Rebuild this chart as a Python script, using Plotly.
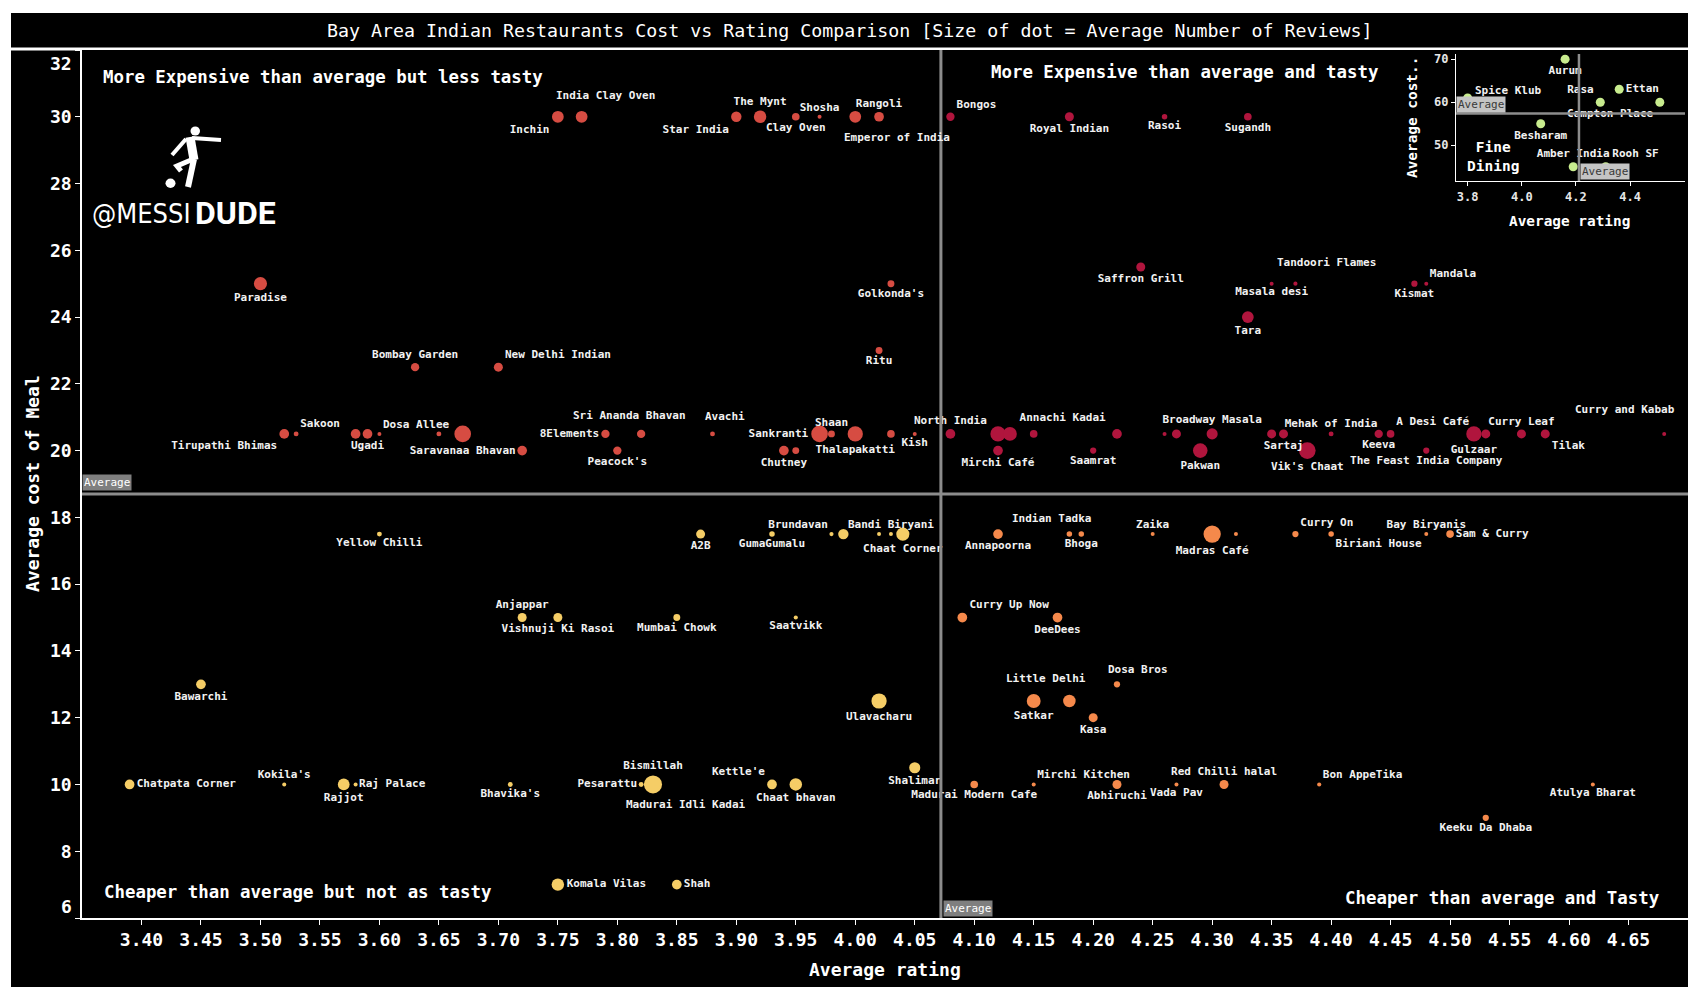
#!/usr/bin/env python3
"""
Bay Area Indian restaurants: cost vs rating quadrant chart
- main scatter split by the average lines
- small fine dining inset in the top right corner
"""

import plotly.graph_objects as go

# --- Data ---
NAMES = [
    # upper left
    "Inchin", "India Clay Oven", "Star India", "The Mynt", "Clay Oven", "Shosha", "Emperor of India", "Rangoli",
    "Paradise", "Golkonda's", "Bombay Garden", "New Delhi Indian", "Ritu",
    "Tirupathi Bhimas", "Sakoon", "", "Ugadi", "Dosa Allee", "", "Saravanaa Bhavan", "8Elements",
    "Sri Ananda Bhavan", "Avachi", "Sankranti", "Shaan", "Thalapakatti", "", "Kish",
    "", "Peacock's", "Chutney", "",
    # upper right
    "Bongos", "Royal Indian", "Rasoi", "Sugandh", "Saffron Grill", "Masala desi", "Tandoori Flames", "Tara",
    "Kismat", "Mandala",
    "North India", "", "Annachi Kadai", "", "", "", "", "Broadway Masala", "", "Sartaj", "Mehak of India",
    "Keeva", "A Desi Café", "Gulzaar", "", "Curry Leaf", "Tilak", "Curry and Kabab",
    "Mirchi Café", "Saamrat", "Pakwan", "Vik's Chaat", "The Feast India Company",
    # lower left
    "Yellow Chilli", "A2B", "GumaGumalu", "Brundavan", "", "", "Bandi Biryani", "Chaat Corner",
    "Anjappar", "Vishnuji Ki Rasoi", "Mumbai Chowk", "Saatvikk", "Bawarchi", "Ulavacharu",
    "Chatpata Corner", "Kokila's", "Rajjot", "Raj Palace", "Bhavika's", "Pesarattu", "Madurai Idli Kadai",
    "Bismillah", "Kettle'e", "Chaat bhavan", "Shalimar", "Komala Vilas", "Shah",
    # lower right
    "Annapoorna", "Indian Tadka", "Bhoga", "Zaika", "Madras Café", "", "Curry On", "Biriani House",
    "Bay Biryanis", "Sam & Curry", "Curry Up Now", "DeeDees", "Satkar", "Little Delhi", "Kasa", "Dosa Bros",
    "Madurai Modern Cafe", "Mirchi Kitchen", "Abhiruchi", "Vada Pav", "Red Chilli halal", "Bon AppeTika",
    "Atulya Bharat", "Keeku Da Dhaba",
]
RATINGS = [
    3.75, 3.77, 3.90, 3.92, 3.95, 3.97, 4.00, 4.02,
    3.50, 4.03, 3.63, 3.70, 4.02,
    3.52, 3.53, 3.58, 3.59, 3.60, 3.65, 3.67, 3.79,
    3.82, 3.88, 3.97, 3.98, 4.00, 4.03, 4.05,
    3.72, 3.80, 3.94, 3.95,
    4.08, 4.18, 4.26, 4.33, 4.24, 4.35, 4.37, 4.33,
    4.47, 4.48,
    4.08, 4.12, 4.13, 4.15, 4.22, 4.26, 4.27, 4.30, 4.35, 4.36, 4.40,
    4.44, 4.45, 4.52, 4.53, 4.56, 4.58, 4.68,
    4.12, 4.20, 4.29, 4.38, 4.48,
    3.60, 3.87, 3.93, 3.98, 3.99, 4.02, 4.03, 4.04,
    3.72, 3.75, 3.85, 3.95, 3.45, 4.02,
    3.39, 3.52, 3.57, 3.58, 3.71, 3.82, 3.824,
    3.83, 3.93, 3.95, 4.05, 3.75, 3.85,
    4.12, 4.18, 4.19, 4.25, 4.30, 4.32, 4.37, 4.40,
    4.48, 4.50, 4.09, 4.17, 4.15, 4.18, 4.20, 4.22,
    4.10, 4.15, 4.22, 4.27, 4.31, 4.39,
    4.62, 4.53,
]
COSTS = [
    30, 30, 30, 30, 30, 30, 30, 30,
    25, 25, 22.5, 22.5, 23,
    20.5, 20.5, 20.5, 20.5, 20.5, 20.5, 20.5, 20.5,
    20.5, 20.5, 20.5, 20.5, 20.5, 20.5, 20.5,
    20, 20, 20, 20,
    30, 30, 30, 30, 25.5, 25, 25, 24,
    25, 25,
    20.5, 20.5, 20.5, 20.5, 20.5, 20.5, 20.5, 20.5, 20.5, 20.5, 20.5,
    20.5, 20.5, 20.5, 20.5, 20.5, 20.5, 20.5,
    20, 20, 20, 20, 20,
    17.5, 17.5, 17.5, 17.5, 17.5, 17.5, 17.5, 17.5,
    15, 15, 15, 15, 13, 12.5,
    10, 10, 10, 10, 10, 10, 10,
    10, 10, 10, 10.5, 7, 7,
    17.5, 17.5, 17.5, 17.5, 17.5, 17.5, 17.5, 17.5,
    17.5, 17.5, 15, 15, 12.5, 12.5, 12, 13,
    10, 10, 10, 10, 10, 10,
    10, 9,
]
REVIEWS = [
    1280, 1280, 1000, 1440, 540, 110, 1280, 870,
    1600, 440, 640, 750, 440,
    870, 220, 870, 870, 110, 220, 2560, 640,
    640, 220, 2560, 440, 2150, 540, 110,
    870, 640, 870, 440,
    640, 750, 280, 540, 750, 70, 160, 1280,
    360, 110,
    870, 2150, 1780, 540, 870, 110, 750, 1140, 750, 750, 220,
    640, 540, 2150, 750, 750, 750, 40,
    870, 360, 1960, 2560, 360,
    220, 750, 280, 160, 1000, 110, 40, 1600,
    750, 750, 440, 160, 870, 2150,
    870, 110, 1280, 110, 220, 220, 110,
    3000, 870, 1440, 1140, 1440, 870,
    870, 280, 280, 40, 2770, 110, 360, 280,
    40, 540, 870, 870, 1780, 1440, 750, 360,
    540, 70, 750, 70, 750, 160,
    20, 360,
]

FINE_NAMES = ["Spice Klub", "Aurum", "Rasa", "Ettan", "Campton Place", "Besharam", "Amber India", "Rooh SF"]
FINE_RATINGS = [3.80, 4.16, 4.29, 4.36, 4.51, 4.07, 4.19, 4.31]
FINE_COSTS = [61, 70, 60, 63, 60, 55, 45, 45]

# reference lines as drawn in the chart
AVG_RATING = 4.072
AVG_COST = 18.70

X_TICKS = [3.40, 3.45, 3.50, 3.55, 3.60, 3.65, 3.70, 3.75, 3.80, 3.85, 3.90, 3.95, 4.00,
           4.05, 4.10, 4.15, 4.20, 4.25, 4.30, 4.35, 4.40, 4.45, 4.50, 4.55, 4.60, 4.65]
Y_TICKS = [6, 8, 10, 12, 14, 16, 18, 20, 22, 24, 26, 28, 30, 32]
FINE_X_TICKS = [3.8, 4.0, 4.2, 4.4]
FINE_Y_TICKS = [50, 60, 70]

# --- Style ---
LABEL_POS = [
    "bottom left", "top center", "bottom left", "top center", "bottom center", "top center", "bottom right", "top center",
    "bottom center", "bottom center", "top center", "top right", "bottom center",
    "bottom left", "top right", "top center", "bottom center", "top right", "top center", "bottom center", "middle left",
    "top center", "top center", "middle left", "top center", "bottom center", "top center", "bottom center",
    "top center", "bottom center", "bottom center", "top center",
    "top right", "bottom center", "bottom center", "bottom center", "bottom center", "bottom center", "top right", "bottom center",
    "bottom center", "top right",
    "top center", "top center", "top right", "top center", "top center", "top center", "top center", "top center",
    "top center", "bottom center", "top center",
    "bottom center", "top right", "bottom center", "top center", "top center", "bottom right", "top left",
    "bottom center", "bottom center", "bottom center", "bottom center", "bottom center",
    "bottom center", "bottom center", "bottom center", "top left", "top center", "top center", "top center", "bottom center",
    "top center", "bottom center", "bottom center", "bottom center", "bottom center", "bottom center",
    "middle right", "top center", "bottom center", "middle right", "bottom center", "middle left", "bottom center",
    "top center", "top left", "bottom center", "bottom center", "middle right", "middle right",
    "bottom center", "top left", "bottom center", "top center", "bottom center", "top center", "top right", "bottom right",
    "top center", "middle right", "top right", "bottom center", "bottom center", "top left", "bottom center", "top right",
    "bottom center", "top right", "bottom center", "bottom center", "top center", "top right",
    "bottom center", "bottom center",
]
# labels that the original nudged away from their dot (px from dot centre, +y is up)
LABEL_SHIFT = {
    "India Clay Oven": (24, 21), "Emperor of India": (42, -21),
    "Sri Ananda Bhavan": (-12, 18), "Avachi": (12, 17),
    "Madurai Idli Kadai": (40, -20), "Curry and Kabab": (-39, 24),
    "Tandoori Flames": (31, 21), "Little Delhi": (-23, 23),
    "Dosa Bros": (21, 15), "Indian Tadka": (-18, 16),
}
FINE_POS = ["middle right", "bottom center", "top left", "middle right", "bottom left", "bottom center", "top center", "top right"]
FINE_SHIFT = {"Spice Klub": (41, 7)}

COL_UL, COL_UR, COL_LL, COL_LR = "#d64c42", "#b0153d", "#f5cd66", "#f5894b"
FINE_COL = "#c8ec8e"
LINE_GREY = "#8c8c8c"
MONO = "DejaVu Sans Mono, Liberation Mono, monospace"

# page has an 8px body margin, so the figure is a bit smaller than the window
BODY = 8
W, H = 1700 - 2 * BODY, 1000 - 2 * BODY
PL, PR, PT, PB = 82, 1688, 50, 918   # plot area, window pixels
MAX_DOT = 18


def px(x): return (x - PL) / (PR - PL)
def py(y): return (PB - y) / (PB - PT)


def quad_colour(r, c):
    if c >= AVG_COST: return COL_UR if r >= AVG_RATING else COL_UL
    return COL_LR if r >= AVG_RATING else COL_LL


def note(text, x, y, xref="paper", yref="paper", xa="center", ya="middle", **kw):
    return dict(text=text, x=x, y=y, xref=xref, yref=yref, xanchor=xa, yanchor=ya, showarrow=False, **kw)


def main():
    fig = go.Figure()
    label_font = dict(family=MONO, size=11, color="#f2f2f2", weight="bold")
    colours = [quad_colour(r, c) for r, c in zip(RATINGS, COSTS)]
    fig.add_trace(go.Scatter(
        x=RATINGS, y=COSTS, mode="markers+text", text=["" if n in LABEL_SHIFT else n for n in NAMES],
        textposition=LABEL_POS, textfont=label_font, hovertext=NAMES, hoverinfo="text",
        marker=dict(size=REVIEWS, sizemode="area", sizeref=2 * max(REVIEWS) / MAX_DOT ** 2, sizemin=2,
                    color=colours, line=dict(width=0), opacity=1),
        cliponaxis=False, showlegend=False))

    fine_avg_r = sum(FINE_RATINGS) / len(FINE_RATINGS)
    fine_avg_c = sum(FINE_COSTS) / len(FINE_COSTS)
    fig.add_trace(go.Scatter(
        x=FINE_RATINGS, y=FINE_COSTS, xaxis="x2", yaxis="y2", mode="markers+text",
        text=["" if n in FINE_SHIFT else n for n in FINE_NAMES], hovertext=FINE_NAMES, hoverinfo="text",
        textposition=FINE_POS, textfont=label_font,
        marker=dict(size=9, color=FINE_COL, line=dict(width=0)), cliponaxis=False, showlegend=False))

    axis_common = dict(showgrid=False, zeroline=False, showline=True, linecolor="white", linewidth=1.5,
                       ticks="outside", ticklen=5, tickcolor="white", tickwidth=1)
    inset_axis = {**axis_common, "ticklen": 4, "linewidth": 1.2}
    # end labels 6 and 32 are pulled inside the plot, like the original
    y_text = ["" if v in (Y_TICKS[0], Y_TICKS[-1]) else str(v) for v in Y_TICKS]
    fig.update_layout(
        width=W, height=H, autosize=False,
        margin=dict(l=PL - BODY, r=W + BODY - PR, t=PT - BODY, b=H + BODY - PB, pad=0),
        paper_bgcolor="white", plot_bgcolor="black",
        font=dict(family=MONO, color="white"),
        xaxis=dict(range=[3.35, 4.70], tickvals=X_TICKS, tickformat=".2f",
                   tickfont=dict(family=MONO, size=18, color="white", weight="bold"), **axis_common),
        yaxis=dict(range=[6, 32], tickvals=Y_TICKS, ticktext=y_text,
                   tickfont=dict(family=MONO, size=18, color="white", weight="bold"), **axis_common),
        xaxis2=dict(domain=[px(1456), px(1685)], anchor="y2", range=[3.757, 4.603], tickvals=FINE_X_TICKS,
                    tickformat=".1f", tickfont=dict(family=MONO, size=12, color="#e6e6e6", weight="bold"),
                    **inset_axis),
        yaxis2=dict(domain=[py(181), py(54)], anchor="x2", range=[41.7, 71.2], tickvals=FINE_Y_TICKS,
                    tickfont=dict(family=MONO, size=12, color="#e6e6e6", weight="bold"), **inset_axis),
    )

    shapes = [
        # black frame + title band
        dict(type="rect", xref="paper", yref="paper", x0=px(11), x1=px(1688), y0=py(987), y1=py(50.5),
             fillcolor="black", line=dict(width=0), layer="below"),
        dict(type="rect", xref="paper", yref="paper", x0=px(11), x1=px(1688), y0=py(47.5), y1=py(13),
             fillcolor="black", line=dict(width=0), layer="below"),
        # average lines
        dict(type="line", xref="x", yref="y domain", x0=AVG_RATING, x1=AVG_RATING, y0=0, y1=1,
             line=dict(color=LINE_GREY, width=3)),
        dict(type="line", xref="x domain", yref="y", x0=0, x1=1, y0=AVG_COST, y1=AVG_COST,
             line=dict(color=LINE_GREY, width=3)),
        dict(type="line", xref="x2", yref="y2 domain", x0=fine_avg_r, x1=fine_avg_r, y0=0, y1=1,
             line=dict(color=LINE_GREY, width=2.5)),
        dict(type="line", xref="x2 domain", yref="y2", x0=0, x1=1, y0=fine_avg_c, y1=fine_avg_c,
             line=dict(color=LINE_GREY, width=2.5)),
    ]
    # rough messidude silhouette
    limb = lambda pts, w: dict(type="path", xref="paper", yref="paper",
                               path="M " + " L ".join(f"{px(a)},{py(b)}" for a, b in pts),
                               line=dict(color="white", width=w))
    shapes += [
        limb([(190, 137), (194, 160)], 9),
        limb([(192, 138), (221, 140)], 4),
        limb([(186, 139), (172, 155)], 4),
        limb([(194, 159), (188, 187)], 6),
        limb([(191, 160), (177, 166), (181, 171)], 5),
        dict(type="circle", xref="paper", yref="paper", x0=px(190.5), x1=px(200), y0=py(135.5), y1=py(126.5),
             fillcolor="white", line=dict(width=0)),
        dict(type="circle", xref="paper", yref="paper", x0=px(165.5), x1=px(175.5), y0=py(188), y1=py(178.5),
             fillcolor="white", line=dict(width=0)),
    ]
    fig.update_layout(shapes=shapes)

    quad_font = dict(family=MONO, size=17.4, color="white", weight="bold")
    tick_font = dict(family=MONO, size=18, color="white", weight="bold")
    tag_main = dict(bgcolor="#7f7f7f", borderpad=1, font=dict(family=MONO, size=11, color="white"))
    tag_inset = dict(bgcolor="#c4c4c4", borderpad=1, font=dict(family=MONO, size=11, color="#3a3a3a"))
    ann = [
        note("Bay Area Indian Restaurants Cost vs Rating Comparison [Size of dot = Average Number of Reviews]",
             px(849.5), py(30.5), font=dict(family=MONO, size=18.3, color="white")),
        note("More Expensive than average but less tasty", 3.3656, 31.18, "x", "y", xa="left", font=quad_font),
        note("More Expensive than average and tasty", 4.4408, 31.35, "x", "y", xa="right", font=quad_font),
        note("Cheaper than average but not as tasty", 3.3668, 6.77, "x", "y", xa="left", font=quad_font),
        note("Cheaper than average and Tasty", 4.677, 6.59, "x", "y", xa="right", font=quad_font),
        note("Average rating", 0.5, py(969), font=tick_font),
        note("Average cost of Meal", px(32), 0.5, textangle=-90, font=tick_font),
        note(str(Y_TICKS[-1]), px(74), py(64), xa="right", font=tick_font),
        note(str(Y_TICKS[0]), px(74), py(906), xa="right", font=tick_font),
        # average tags
        note("Average", 0, AVG_COST, "x domain", "y", xa="left", ya="bottom", yshift=3, **tag_main),
        note("Average", AVG_RATING, 0, "x", "y domain", xa="left", ya="bottom", xshift=2, yshift=1, **tag_main),
        note("Average", 0, fine_avg_c, "x2 domain", "y2", xa="left", ya="bottom", yshift=1, **tag_inset),
        note("Average", fine_avg_r, 0, "x2", "y2 domain", xa="left", ya="bottom", xshift=1, yshift=1, **tag_inset),
        # inset texts
        note("Fine<br>Dining", 3.895, 47.5, "x2", "y2", font=dict(family=MONO, size=14.5, color="white", weight="bold")),
        note("Average rating", px(1569), py(221), font=dict(family=MONO, size=14.4, color="white", weight="bold")),
        note("Average cost..", px(1412), py(118), textangle=-90,
             font=dict(family=MONO, size=14.4, color="white", weight="bold")),
        # logo text
        note("@MESSI", px(193), py(213), xa="right",
             font=dict(family="Liberation Sans Narrow, DejaVu Sans Condensed, sans-serif", size=27, color="white")),
        note("DUDE", px(193), py(213), xa="left", font=dict(family="Roboto, sans-serif", size=32, color="white", weight="bold")),
    ]
    # nudged point labels
    for n, r, c in zip(NAMES, RATINGS, COSTS):
        if n in LABEL_SHIFT:
            dx, dy = LABEL_SHIFT[n]
            ann.append(note(n, r, c, "x", "y", xshift=dx, yshift=dy, font=label_font))
    for n, r, c in zip(FINE_NAMES, FINE_RATINGS, FINE_COSTS):
        if n in FINE_SHIFT:
            dx, dy = FINE_SHIFT[n]
            ann.append(note(n, r, c, "x2", "y2", xshift=dx, yshift=dy, font=label_font))
    fig.update_layout(annotations=ann)
    fig.write_html("out.html")


if __name__ == "__main__": main()
